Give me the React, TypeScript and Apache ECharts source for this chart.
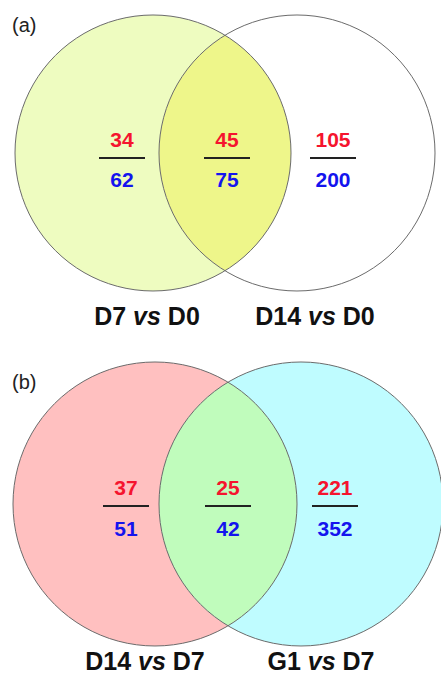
import React, { useEffect, useRef } from "react";
import * as echarts from "echarts";

// ---- data ----
const panelTags = ["(a)", "(b)"];
const setLabelsA = ["D7 vs D0", "D14 vs D0"];
const setLabelsB = ["D14 vs D7", "G1 vs D7"];
// regions: [left only, overlap, right only]
const upA = [34, 45, 105];
const downA = [62, 75, 200];
const upB = [37, 25, 221];
const downB = [51, 42, 352];

const FONT = '"Liberation Sans", Arial, Helvetica, sans-serif';

// ---- layout (pixel coordinates on a 1:1 hidden axis system) ----
const panels = [
  {
    tag: [12, 25],
    c1: [153, 153],
    c2: [297, 153],
    r: 138,
    fills: ["#eefcc0", "#ffffff", "#eef68a"],
    numX: [122, 227, 333],
    numY: [139, 158, 179],
    labelX: [147, 315],
    labelY: 316,
    labels: setLabelsA,
    up: upA,
    down: downA,
  },
  {
    tag: [12, 382],
    c1: [155, 504],
    c2: [301, 504],
    r: 142,
    fills: ["#ffc0c0", "#bffcff", "#c0fcbc"],
    numX: [126, 228, 335],
    numY: [487, 506, 528],
    labelX: [145, 321],
    labelY: 661,
    labels: setLabelsB,
    up: upB,
    down: downB,
  },
];

function richLabel(s: string) {
  const [a, b] = s.split(" vs ");
  return `{n|${a} }{i|vs}{n| ${b}}`;
}

export default function App() {
  const ref = useRef<HTMLDivElement>(null);
  useEffect(() => {
    document.body.style.margin = "0";
    if (!ref.current) return;
    const chart = echarts.init(ref.current, null, { renderer: "svg" });
    const renderItem = (params: any, api: any) => {
      const p = panels[params.dataIndex];
      const c1 = api.coord(p.c1);
      const c2 = api.coord(p.c2);
      const r = api.size([p.r, 0])[0];
      const d = c2[0] - c1[0];
      const a = d / 2;
      const h = Math.sqrt(r * r - a * a);
      const P1 = [c1[0] + a, c1[1] - h];
      const P2 = [c1[0] + a, c1[1] + h];
      const lens = `M ${P1[0]} ${P1[1]} A ${r} ${r} 0 0 0 ${P2[0]} ${P2[1]} A ${r} ${r} 0 0 0 ${P1[0]} ${P1[1]} Z`;
      const children: any[] = [
        { type: "circle", shape: { cx: c1[0], cy: c1[1], r }, style: { fill: p.fills[0] } },
        { type: "circle", shape: { cx: c2[0], cy: c2[1], r }, style: { fill: p.fills[1] } },
        { type: "path", shape: { pathData: lens }, style: { fill: p.fills[2] } },
        { type: "circle", shape: { cx: c1[0], cy: c1[1], r }, style: { fill: "none", stroke: "#6b6b6b", lineWidth: 1 } },
        { type: "circle", shape: { cx: c2[0], cy: c2[1], r }, style: { fill: "none", stroke: "#6b6b6b", lineWidth: 1 } },
      ];
      const tag = api.coord(p.tag);
      children.push({
        type: "text",
        style: {
          text: panelTags[params.dataIndex],
          x: tag[0],
          y: tag[1],
          fill: "#222",
          fontSize: 20,
          fontFamily: FONT,
          align: "left",
          verticalAlign: "middle",
        },
      });
      for (let k = 0; k < 3; k++) {
        const top = api.coord([p.numX[k], p.numY[0]]);
        const mid = api.coord([p.numX[k], p.numY[1]]);
        const bot = api.coord([p.numX[k], p.numY[2]]);
        children.push({
          type: "text",
          style: {
            text: String(p.up[k]),
            x: top[0],
            y: top[1],
            fill: "#f5142e",
            fontSize: 21,
            fontWeight: "bold",
            fontFamily: FONT,
            align: "center",
            verticalAlign: "middle",
          },
        });
        children.push({
          type: "line",
          shape: { x1: mid[0] - 23, y1: mid[1], x2: mid[0] + 23, y2: mid[1] },
          style: { stroke: "#222", lineWidth: 2 },
        });
        children.push({
          type: "text",
          style: {
            text: String(p.down[k]),
            x: bot[0],
            y: bot[1],
            fill: "#1414ee",
            fontSize: 21,
            fontWeight: "bold",
            fontFamily: FONT,
            align: "center",
            verticalAlign: "middle",
          },
        });
      }
      for (let k = 0; k < 2; k++) {
        const pt = api.coord([p.labelX[k], p.labelY]);
        const base = { fontSize: 25, fontWeight: "bold", fontFamily: FONT, fill: "#111" };
        children.push({
          type: "text",
          style: {
            text: richLabel(p.labels[k]),
            x: pt[0],
            y: pt[1],
            align: "center",
            verticalAlign: "middle",
            rich: { n: { ...base }, i: { ...base, fontStyle: "italic" } },
          },
        });
      }
      return { type: "group", children };
    };
    chart.setOption({
      animation: false,
      backgroundColor: "#ffffff",
      grid: { left: 0, right: 0, top: 0, bottom: 0 },
      xAxis: { type: "value", min: 0, max: 441, show: false },
      yAxis: { type: "value", min: 0, max: 676, inverse: true, show: false },
      series: [
        {
          type: "custom",
          renderItem,
          clip: false,
          silent: true,
          data: [
            [0, 0],
            [1, 0],
          ],
        },
      ],
    });
    return () => chart.dispose();
  }, []);
  return <div ref={ref} style={{ width: 441, height: 676 }} />;
}
